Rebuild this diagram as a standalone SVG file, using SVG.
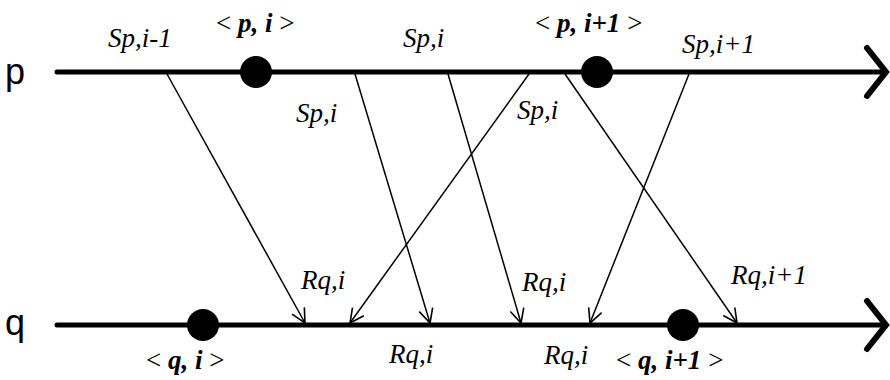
<svg xmlns="http://www.w3.org/2000/svg" width="890" height="380" viewBox="0 0 890 380">
<style>
.axis{stroke:#000;stroke-width:5;stroke-linecap:round;fill:none}
.head{stroke:#000;stroke-width:6;stroke-linecap:round;stroke-linejoin:miter;fill:none}
.msg{stroke:#000;stroke-width:1.5;fill:none;marker-end:url(#v)}
.lbl{font-family:'Liberation Serif','Times New Roman',serif;font-style:italic;font-size:27px;fill:#000}
.ev{font-family:'Liberation Serif','Times New Roman',serif;font-size:27px;fill:#000}
.b{font-weight:bold;font-style:italic}
.proc{font-family:'Liberation Sans',Arial,sans-serif;font-size:36px;fill:#000}
</style>
<defs>
<marker id="v" viewBox="-16 -8 18 16" refX="0" refY="0" markerWidth="18" markerHeight="16" markerUnits="userSpaceOnUse" orient="auto">
<path d="M-14,-7 L0,0 L-14,7" fill="none" stroke="#000" stroke-width="1.6"/>
</marker>
</defs>
<g id="process-p">
<text class="proc" x="5" y="84">p</text>
<line class="axis" x1="57" y1="72" x2="884" y2="72"/>
<path class="head" d="M867,48 L886,72 L867,96"/>
</g>
<g id="process-q">
<text class="proc" x="5" y="335">q</text>
<line class="axis" x1="57" y1="325" x2="884" y2="325"/>
<path class="head" d="M867,301 L886,325 L867,349"/>
</g>
<g id="connectors">
<line class="msg" x1="167" y1="74" x2="305" y2="323"/>
<line class="msg" x1="355" y1="74" x2="430" y2="323"/>
<line class="msg" x1="448" y1="74" x2="521" y2="323"/>
<line class="msg" x1="529" y1="74" x2="350" y2="323"/>
<line class="msg" x1="565" y1="74" x2="737" y2="323"/>
<line class="msg" x1="689" y1="74" x2="590" y2="323"/>
</g>
<g id="event-p-i">
<circle cx="256" cy="72" r="16" fill="#000"/>
<text class="ev" x="216" y="32">&lt; <tspan class="b">p, i</tspan> &gt;</text>
</g>
<g id="event-p-i1">
<circle cx="597" cy="72" r="16" fill="#000"/>
<text class="ev" x="535" y="32">&lt; <tspan class="b">p, i+1</tspan> &gt;</text>
</g>
<g id="event-q-i">
<circle cx="203" cy="325" r="16" fill="#000"/>
<text class="ev" x="146" y="369">&lt; <tspan class="b">q, i</tspan> &gt;</text>
</g>
<g id="event-q-i1">
<circle cx="683" cy="325" r="16" fill="#000"/>
<text class="ev" x="616" y="369">&lt; <tspan class="b">q, i+1</tspan> &gt;</text>
</g>
<g id="labels">
<text class="lbl" x="108" y="47">Sp,i-1</text>
<text class="lbl" x="403" y="47">Sp,i</text>
<text class="lbl" x="682" y="53">Sp,i+1</text>
<text class="lbl" x="296" y="122">Sp,i</text>
<text class="lbl" x="517" y="119">Sp,i</text>
<text class="lbl" x="301" y="289">Rq,i</text>
<text class="lbl" x="522" y="291">Rq,i</text>
<text class="lbl" x="731" y="284">Rq,i+1</text>
<text class="lbl" x="389" y="363">Rq,i</text>
<text class="lbl" x="544" y="364">Rq,i</text>
</g>
</svg>
